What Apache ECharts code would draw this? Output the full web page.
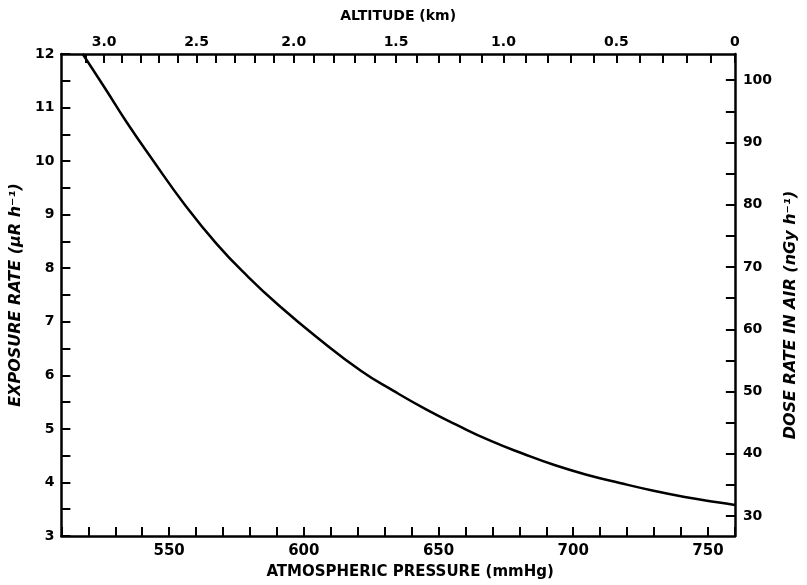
<!DOCTYPE html>
<html><head><meta charset="utf-8">
<script src="https://cdn.jsdelivr.net/npm/echarts@6/dist/echarts.min.js"></script>
<style>html,body{margin:0;padding:0;background:#fff}#c{width:807px;height:585px}</style>
</head><body><div id="c"></div>
<script>
// Curve: atmospheric pressure (mmHg) vs exposure rate (µR/h)
const pressureMmHg = [517.9, 526.2, 534.3, 543.9, 555.6, 567.7, 579.5, 591.3, 604.6, 621.3, 633.3, 645.2, 657.3, 669.2, 681.2, 693.3, 705.3, 717.3, 729.4, 741.4, 753.5, 760.0];
const exposureRate = [12.0, 11.36, 10.72, 10.02, 9.20, 8.45, 7.83, 7.28, 6.72, 6.08, 5.71, 5.37, 5.06, 4.78, 4.54, 4.32, 4.14, 3.99, 3.85, 3.73, 3.63, 3.58];

// Axis tick labels
const pressureLabels = [550, 600, 650, 700, 750];
const exposureLabels = [3, 4, 5, 6, 7, 8, 9, 10, 11, 12];
const doseTicks = [30, 35, 40, 45, 50, 55, 60, 65, 70, 75, 80, 85, 90, 95, 100];
const doseLabels = [30, 40, 50, 60, 70, 80, 90, 100];
const altitudeTickKm = [3.1, 3.0, 2.9, 2.8, 2.7, 2.6, 2.5, 2.4, 2.3, 2.2, 2.1, 2.0, 1.9, 1.8, 1.7, 1.6, 1.5, 1.4, 1.3, 1.2, 1.1, 1.0, 0.9, 0.8, 0.7, 0.6, 0.5, 0.4, 0.3, 0.2, 0.1, 0];
const altitudeLabelKm = [3.0, 2.5, 2.0, 1.5, 1.0, 0.5, 0];

// Standard-atmosphere conversion used to place the altitude scale on the pressure axis
function altitudeToPressure(km) { return 760 * Math.pow(1 - 2.25577e-5 * km * 1000, 5.25588); }
const altTickP = altitudeTickKm.map(altitudeToPressure);
const altLabelP = altitudeLabelKm.map(altitudeToPressure);
function pressureToAltLabel(p) {
  let best = 0, bd = 1e9;
  altLabelP.forEach((q, i) => { const d = Math.abs(q - p); if (d < bd) { bd = d; best = i; } });
  const km = altitudeLabelKm[best];
  return km === 0 ? '0' : km.toFixed(1);
}

const FONT = 'DejaVu Sans';
const axisLine = { show: true, onZero: false, lineStyle: { color: '#000', width: 2.5 } };
const tick = { show: true, inside: true, length: 9, lineStyle: { color: '#000', width: 2 } };
const lbl = { color: '#000', fontFamily: FONT, fontWeight: 'bold', fontSize: 14 };

const chart = echarts.init(document.getElementById('c'), null, { renderer: 'canvas' });
chart.setOption({
  animation: false,
  backgroundColor: '#fff',
  grid: { left: 58, right: 58, top: 54, bottom: 47, containLabel: false },
  xAxis: [
    {
      type: 'value', position: 'bottom', min: 510, max: 760, interval: 10,
      name: 'ATMOSPHERIC PRESSURE (mmHg)', nameLocation: 'middle', nameGap: 29,
      nameTextStyle: { color: '#000', fontFamily: FONT, fontWeight: 'bold', fontSize: 15, padding: [0, 0, 0, 24] },
      axisLine: axisLine, axisTick: tick, splitLine: { show: false },
      axisLabel: Object.assign({}, lbl, { fontSize: 15, margin: 8,
        formatter: v => pressureLabels.indexOf(v) >= 0 ? String(v) : '' })
    },
    {
      type: 'value', position: 'top', min: 510, max: 760,
      name: 'ALTITUDE (km)', nameLocation: 'middle', nameGap: 31,
      nameTextStyle: { color: '#000', fontFamily: FONT, fontWeight: 'bold', fontSize: 14 },
      axisLine: axisLine,
      axisTick: Object.assign({}, tick, { customValues: altTickP }),
      splitLine: { show: false },
      axisLabel: Object.assign({}, lbl, { margin: 5, customValues: altLabelP, formatter: v => pressureToAltLabel(v) })
    }
  ],
  yAxis: [
    {
      type: 'value', position: 'left', min: 3, max: 12, interval: 0.5,
      name: 'EXPOSURE RATE (μR h⁻¹)', nameLocation: 'middle', nameGap: 30, nameRotate: 90,
      nameTextStyle: { color: '#000', fontFamily: FONT, fontWeight: 'bold', fontStyle: 'italic', fontSize: 16 },
      axisLine: axisLine, axisTick: tick, splitLine: { show: false },
      axisLabel: Object.assign({}, lbl, { margin: 7,
        formatter: v => exposureLabels.indexOf(v) >= 0 ? String(v) : '' })
    },
    {
      type: 'value', position: 'right', min: 26.8, max: 104.2,
      name: 'DOSE RATE IN AIR (nGy h⁻¹)', nameLocation: 'middle', nameGap: 38, nameRotate: 90,
      nameTextStyle: { color: '#000', fontFamily: FONT, fontWeight: 'bold', fontStyle: 'italic', fontSize: 16, padding: [0, 0, 0, -40] },
      axisLine: axisLine,
      axisTick: Object.assign({}, tick, { customValues: doseTicks }),
      splitLine: { show: false },
      axisLabel: Object.assign({}, lbl, { margin: 8, customValues: doseLabels, formatter: v => String(v) })
    }
  ],
  series: [{
    type: 'line', xAxisIndex: 0, yAxisIndex: 0,
    data: pressureMmHg.map((p, i) => [p, exposureRate[i]]),
    smooth: 0.5, showSymbol: false, symbol: 'none',
    lineStyle: { color: '#000', width: 2.5 }, z: 3
  }]
});
</script>
</body></html>
